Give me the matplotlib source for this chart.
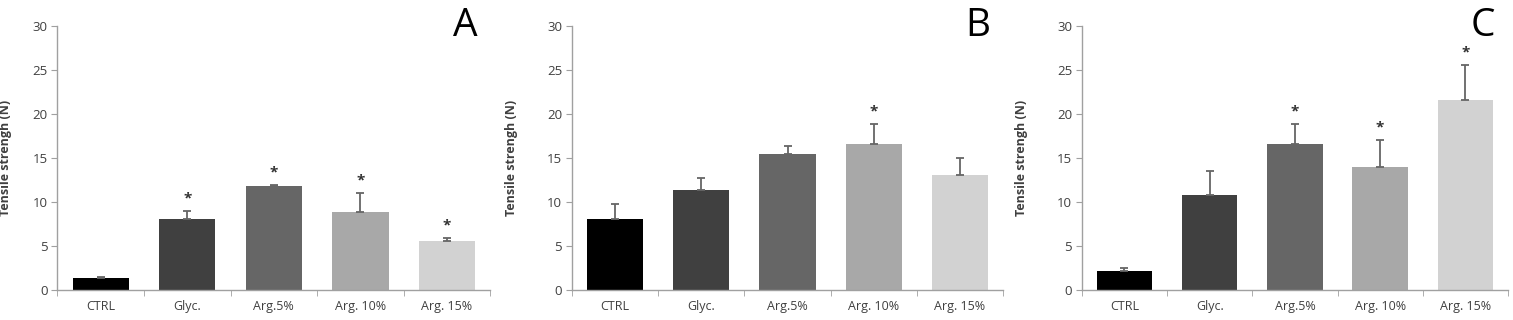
import numpy as np
import matplotlib.pyplot as plt

plt.rcParams['font.family'] = ['Open Sans', 'DejaVu Sans']

groups = ['CTRL', 'Glyc.', 'Arg.5%', 'Arg. 10%', 'Arg. 15%']
colors = ['#000000', '#404040', '#666666', '#a8a8a8', '#d2d2d2']

a_mean = [1.4, 8.1, 11.8, 8.9, 5.6]
a_err = [0.1, 0.9, 0.1, 2.1, 0.3]
a_star = [False, True, True, True, True]

b_mean = [8.1, 11.3, 15.5, 16.6, 13.1]
b_err = [1.7, 1.4, 0.8, 2.3, 1.9]
b_star = [False, False, False, True, False]

c_mean = [2.1, 10.8, 16.6, 14.0, 21.6]
c_err = [0.4, 2.7, 2.2, 3.0, 4.0]
c_star = [False, False, True, True, True]

panels = [('A', a_mean, a_err, a_star, [0.038, 0.324], -0.105),
          ('B', b_mean, b_err, b_star, [0.378, 0.663], -0.125),
          ('C', c_mean, c_err, c_star, [0.715, 0.9967], -0.126)]

fig = plt.figure(figsize=(15.13, 3.2), dpi=100)
axcol = '#a0a0a0'
txtcol = '#404040'

for letter, mean, err, star, (l, r), lab_x in panels:
    ax = fig.add_axes([l, 0.094, r - l, 0.825])
    x = np.arange(len(groups))
    ax.bar(x, mean, width=0.65, color=colors, zorder=2)
    ax.errorbar(x, mean, yerr=[np.zeros(len(err)), err], fmt='none',
                ecolor='#666666', elinewidth=1.3, capsize=3, capthick=1.3, zorder=3)
    for xi, m, e, s in zip(x, mean, err, star):
        if s:
            ax.annotate('*', (xi, m + e), xytext=(0, 4), textcoords='offset points',
                        ha='center', va='bottom', fontsize=11, color='#333333',
                        fontweight='bold')
    ax.set_xlim(-0.5, len(groups) - 0.5)
    ax.set_ylim(0, 30)
    ax.set_yticks(range(0, 31, 5))
    ax.set_xticks(x)
    ax.set_xticklabels(groups, fontsize=9, color=txtcol)
    ax.set_xticks(np.arange(-0.5, len(groups), 1), minor=True)
    ax.tick_params(axis='x', which='major', length=0, pad=7)
    ax.tick_params(axis='x', which='minor', length=4, color=axcol, direction='out')
    ax.tick_params(axis='y', length=4, color=axcol, labelsize=9.5, labelcolor=txtcol, pad=3)
    for sp in ['top', 'right']:
        ax.spines[sp].set_visible(False)
    for sp in ['left', 'bottom']:
        ax.spines[sp].set_color(axcol)
        ax.spines[sp].set_linewidth(1.0)
    ax.set_ylabel('Tensile strengh (N)', fontsize=9, fontweight='bold', color=txtcol)
    ax.yaxis.set_label_coords(lab_x, 0.5)
    ax.text(0.97, 1.0, letter, transform=ax.transAxes, fontsize=28,
            ha='right', va='center', color='black')

fig.savefig('out.png', dpi=100)
